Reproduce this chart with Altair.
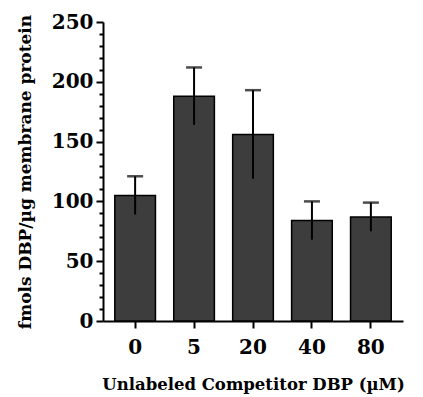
import altair as alt
import pandas as pd

categories = ["0", "5", "20", "40", "80"]
means = [105, 188, 156, 84, 87]
errors = [16, 24, 37, 16, 12]

df = pd.DataFrame({
    "cat": categories,
    "mean": means,
    "lo": [m - e for m, e in zip(means, errors)],
    "hi": [m + e for m, e in zip(means, errors)],
})

FONT = "DejaVu Serif"
yscale = alt.Scale(domain=[0, 250], nice=False)
xscale = alt.Scale(paddingInner=0.31, paddingOuter=0.2)

x_axis = alt.Axis(title="Unlabeled Competitor DBP (µM)", labelAngle=0,
                  labelFont=FONT, labelFontSize=20, labelFontWeight="bold",
                  labelColor="black", labelPadding=9,
                  titleFont=FONT, titleFontSize=16.5, titleFontWeight="bold",
                  titleColor="black", titlePadding=19,
                  domainColor="black", domainWidth=2,
                  tickColor="black", tickWidth=2, tickSize=7)

y_axis = alt.Axis(title="fmols DBP/µg membrane protein",
                  values=list(range(0, 251, 10)),
                  labelExpr="datum.value % 50 === 0 ? format(datum.value, 'd') : ''",
                  labelOverlap=False,
                  labelFont=FONT, labelFontSize=20, labelFontWeight="bold",
                  labelColor="black", labelPadding=3,
                  titleFont=FONT, titleFontSize=17, titleFontWeight="bold",
                  titleColor="black", titlePadding=17,
                  domainColor="black", domainWidth=2,
                  tickColor="black", tickWidth=2,
                  tickSize={"condition": {"test": "datum.value % 50 === 0", "value": 7}, "value": 4},
                  grid=False)

x = alt.X("cat:N", sort=categories, scale=xscale, axis=x_axis)

base = alt.Chart(df)

bars = base.mark_bar(fill="#3d3d3d", stroke="black", strokeWidth=1.5).encode(
    x=x,
    y=alt.Y("mean:Q", scale=yscale, axis=y_axis),
)

err = base.mark_rule(color="black", strokeWidth=2).encode(
    x=x,
    y=alt.Y("lo:Q", scale=yscale, axis=y_axis),
    y2="hi:Q",
)

caps = base.mark_tick(color="black", thickness=2.5, size=16, orient="horizontal").encode(
    x=x,
    y=alt.Y("hi:Q", scale=yscale, axis=y_axis),
)

chart = alt.layer(bars, err, caps).properties(
    width=300, height=299,
    autosize=alt.AutoSizeParams(type="none"),
    padding={"left": 95, "top": 14, "right": 10, "bottom": 76},
).configure(background="white").configure_view(stroke=None)

chart.save("out.html", embed_options={"renderer": "svg", "actions": False})
